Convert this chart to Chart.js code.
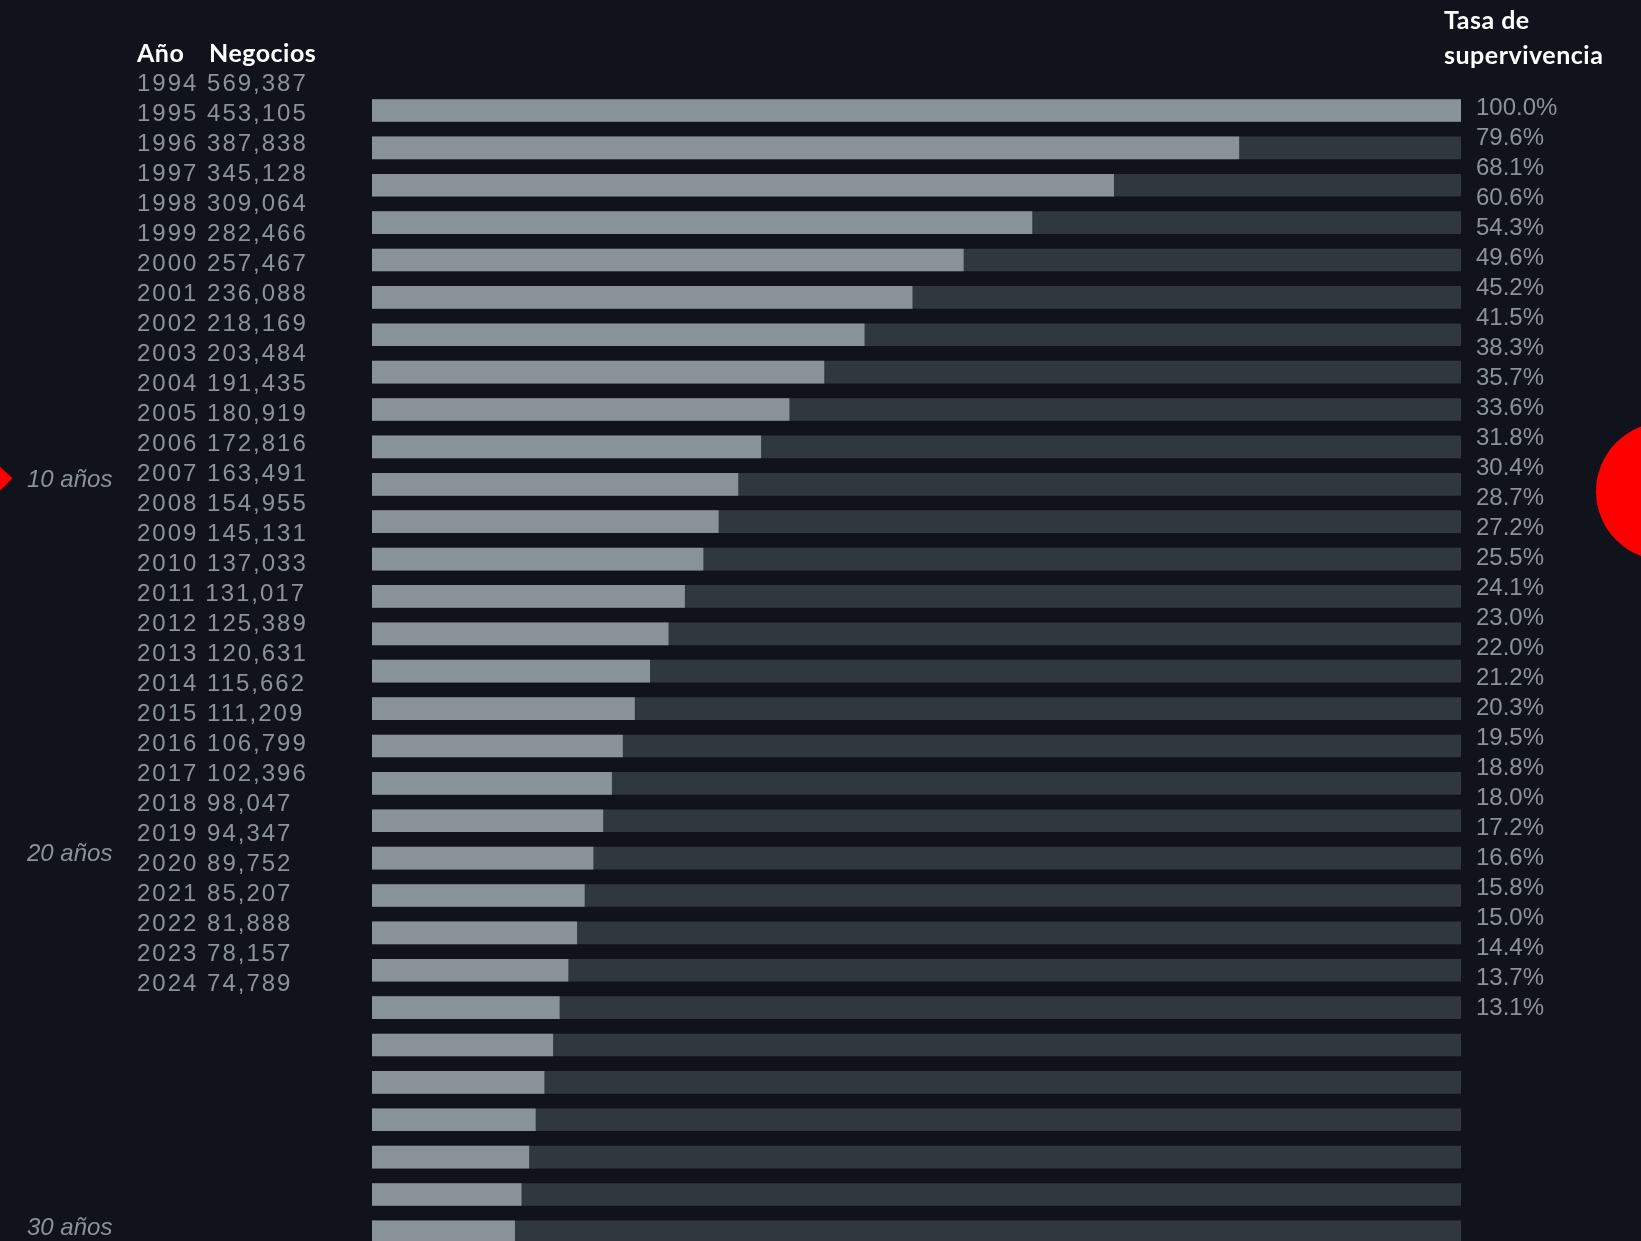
<!DOCTYPE html>
<html>
<head>
<meta charset="utf-8">
<script src="https://cdn.jsdelivr.net/npm/chart.js@4.4.1/dist/chart.umd.min.js"></script>
<style>
  html, body { margin: 0; padding: 0; background: #10131b; overflow: hidden; }
  #wrap { position: relative; width: 1641px; height: 1241px; overflow: hidden; background: #10131b; }
  #c { position: absolute; left: 0; top: 0; }
  .hdr { position: absolute; color: #ffffff; font-family: "Lato", "Inter", sans-serif; font-weight: 700; font-size: 25px; letter-spacing: 0.5px; white-space: nowrap; }
  .row { position: absolute; color: #8a9399; font-family: "Liberation Sans", Arial, sans-serif; font-size: 24px; white-space: nowrap; line-height: 30px; }
  .yr { letter-spacing: 2px; }
</style>
</head>
<body>
<div id="wrap">
  <canvas id="c" width="1641" height="1280"></canvas>
  <div id="texts"></div>
</div>
<script>
// ---- data ----
const years = [1994, 1995, 1996, 1997, 1998, 1999, 2000, 2001, 2002, 2003, 2004, 2005, 2006, 2007, 2008, 2009, 2010, 2011, 2012, 2013, 2014, 2015, 2016, 2017, 2018, 2019, 2020, 2021, 2022, 2023, 2024];
const negocios = [569387, 453105, 387838, 345128, 309064, 282466, 257467, 236088, 218169, 203484, 191435, 180919, 172816, 163491, 154955, 145131, 137033, 131017, 125389, 120631, 115662, 111209, 106799, 102396, 98047, 94347, 89752, 85207, 81888, 78157, 74789];
const tasa = [100.0, 79.6, 68.1, 60.6, 54.3, 49.6, 45.2, 41.5, 38.3, 35.7, 33.6, 31.8, 30.4, 28.7, 27.2, 25.5, 24.1, 23.0, 22.0, 21.2, 20.3, 19.5, 18.8, 18.0, 17.2, 16.6, 15.8, 15.0, 14.4, 13.7, 13.1];
const track = [100, 100, 100, 100, 100, 100, 100, 100, 100, 100, 100, 100, 100, 100, 100, 100, 100, 100, 100, 100, 100, 100, 100, 100, 100, 100, 100, 100, 100, 100, 100];
const hitoIdx = [10, 20, 30];
const hitoLabels = ["10 años", "20 años", "30 años"];
const headers = ["Año", "Negocios", "Tasa de", "supervivencia"];

// ---- text columns ----
const texts = document.getElementById('texts');
function addDiv(cls, txt, left, top) {
  const d = document.createElement('div');
  d.className = cls;
  d.textContent = txt;
  d.style.left = left + 'px';
  d.style.top = top + 'px';
  texts.appendChild(d);
}
addDiv('hdr', headers[0], 137, 37);
addDiv('hdr', headers[1], 209, 37);
addDiv('hdr', headers[2], 1444, 4);
addDiv('hdr', headers[3], 1444, 39);
years.forEach((y, i) => {
  addDiv('row yr', y + ' ' + negocios[i].toLocaleString('en-US'), 137, 68 + i * 30);
});
tasa.forEach((t, i) => {
  addDiv('row', t.toFixed(1) + '%', 1476, 92 + i * 30);
});

// ---- chart ----
const cats = years.map(String);
const markers = {
  id: 'markers',
  afterDatasetsDraw(chart) {
    const ctx = chart.ctx;
    const ys = chart.scales.y;
    const yc = ys.getPixelForValue(hitoIdx[0]);
    ctx.save();
    ctx.fillStyle = '#ff0000';
    ctx.strokeStyle = '#ff0000';
    ctx.lineJoin = 'round';
    ctx.lineWidth = 2;
    ctx.beginPath();
    ctx.moveTo(-12, yc - 5);
    ctx.lineTo(-1, yc - 17);
    ctx.lineTo(11, yc - 6);
    ctx.lineTo(-1, yc + 6);
    ctx.closePath();
    ctx.fill();
    ctx.stroke();
    ctx.beginPath();
    ctx.arc(1665, yc + 7, 69, 0, Math.PI * 2);
    ctx.fill();
    ctx.restore();
  }
};

new Chart(document.getElementById('c'), {
  type: 'bar',
  data: {
    labels: cats,
    datasets: [
      { data: tasa, backgroundColor: '#899397', grouped: false, order: 0, barThickness: 22, borderWidth: 0 },
      { data: track, backgroundColor: '#31373f', grouped: false, order: 1, barThickness: 22, borderWidth: 0 }
    ]
  },
  options: {
    indexAxis: 'y',
    responsive: false,
    animation: false,
    devicePixelRatio: 1,
    layout: { padding: { top: 91.8, bottom: 29.4, right: 180, left: 27 } },
    plugins: { legend: { display: false }, tooltip: { enabled: false } },
    scales: {
      x: { type: 'linear', min: 0, max: 100, display: false },
      y: {
        type: 'category',
        offset: true,
        grid: { display: false, drawTicks: false },
        border: { display: false },
        afterFit(scale) { scale.width = 345; },
        ticks: {
          autoSkip: false,
          padding: 0,
          crossAlign: 'far',
          labelOffset: -4,
          color: '#8a9399',
          font: { family: '"Liberation Sans", Arial, sans-serif', size: 24, style: 'italic' },
          callback(val, idx) {
            const k = hitoIdx.indexOf(idx);
            return k >= 0 ? hitoLabels[k] : '';
          }
        }
      }
    }
  },
  plugins: [markers]
});
</script>
</body>
</html>
